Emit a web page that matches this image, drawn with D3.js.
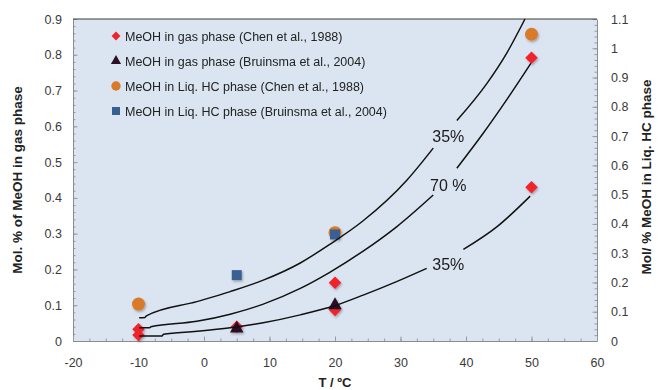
<!DOCTYPE html>
<html>
<head>
<meta charset="utf-8">
<script src="https://cdn.jsdelivr.net/npm/d3@7"></script>
<style>
  body { margin: 0; background: #ffffff; }
  svg { display: block; }
  .tick text { font-family: "Liberation Sans", Arial, sans-serif; font-size: 12.5px; fill: #3a3a3a; }
</style>
</head>
<body>
<div id="canvas"></div>
<script>
// x ticks (temperature, degC)
var xTicks = [-20, -10, 0, 10, 20, 30, 40, 50, 60];
var yLeftTicks = [0, 0.1, 0.2, 0.3, 0.4, 0.5, 0.6, 0.7, 0.8, 0.9];
var yRightTicks = [0, 0.1, 0.2, 0.3, 0.4, 0.5, 0.6, 0.7, 0.8, 0.9, 1, 1.1];

// measured points [T, value]
var gasChen = [[-10, 0.033], [-10, 0.017], [5, 0.04], [20, 0.163], [20, 0.087], [50, 0.792], [50, 0.43]];
var gasBruinsma = [[5, 0.035], [20, 0.10]];
var liqChen = [[-10, 0.126], [20, 0.37], [50, 1.048]];          // right axis
var liqBruinsma = [[5, 0.225], [20, 0.364]];                     // right axis

// model curves (null = gap for the label)
var curve35Upper = [[-9.9, 0.065], [-9.0, 0.066], [-8.8, 0.07], [-1.1, 0.11], [4.0, 0.138], [9.05, 0.17],
  [14.7, 0.218], [19.2, 0.27], [24.3, 0.336], [31.0, 0.45], [35.0, 0.539], null,
  [38.6, 0.616], [43.2, 0.72], [46.2, 0.804], [49.0, 0.9]];
var curve70 = [[-9.9, 0.037], [-8.3, 0.037], [-8.1, 0.04], [-1.1, 0.055], [4.0, 0.075], [9.05, 0.103],
  [14.7, 0.147], [19.2, 0.192], [24.3, 0.251], [29.4, 0.319], [35.0, 0.408], null,
  [38.6, 0.483], [42.6, 0.58], [46.2, 0.674], [49.9, 0.776]];
var curve35Lower = [[-9.9, 0.014], [-6.4, 0.014], [-6.2, 0.019], [-1.1, 0.027], [4.0, 0.037], [9.05, 0.051],
  [14.7, 0.073], [20.0, 0.099], [24.4, 0.129], [29.4, 0.166], [34.0, 0.203], null,
  [39.6, 0.256], [44.7, 0.319], [49.8, 0.405]];

var curveLabels = [
  { text: "35%", t: 37.3, v: 0.573 },
  { text: "70 %", t: 37.3, v: 0.436 },
  { text: "35%", t: 37.3, v: 0.215 }
];

var legendLabels = [
  "MeOH in gas phase (Chen et al., 1988)",
  "MeOH in gas phase (Bruinsma et al., 2004)",
  "MeOH in Liq. HC phase (Chen et al., 1988)",
  "MeOH in Liq. HC phase (Bruinsma et al., 2004)"
];

var width = 658, height = 390;
var pLeft = 73, pRight = 597, pTop = 19, pBottom = 341;

var svg = d3.select("#canvas").append("svg")
  .attr("width", width).attr("height", height);

var defs = svg.append("defs");
var f = defs.append("filter").attr("id", "shadow")
  .attr("x", "-50%").attr("y", "-50%").attr("width", "200%").attr("height", "200%");
f.append("feDropShadow").attr("dx", 1).attr("dy", 1.5).attr("stdDeviation", 1)
  .attr("flood-color", "#000").attr("flood-opacity", 0.3);

var x = d3.scaleLinear().domain([-20, 60]).range([pLeft, pRight]);
var yL = d3.scaleLinear().domain([0, 0.9]).range([pBottom, pTop]);
var yR = d3.scaleLinear().domain([0, 1.1]).range([pBottom, pTop]);

// plot area
svg.append("rect")
  .attr("x", pLeft).attr("y", pTop)
  .attr("width", pRight - pLeft).attr("height", pBottom - pTop)
  .attr("fill", "#dbe5f1");

function minorStyle(g){ g.select(".domain").remove(); g.selectAll("line").attr("stroke", "#9a9a9a"); }
function majorStyle(g){ g.select(".domain").attr("stroke", "#8c8c8c"); g.selectAll("line").attr("stroke", "#9a9a9a"); }
var fmt = function(d){ return String(d); };

// minor ticks
svg.append("g").attr("transform", "translate(" + pLeft + ",0)")
  .call(d3.axisLeft(yL).tickValues(d3.range(0, 0.901, 0.02)).tickSizeInner(-2.5).tickSizeOuter(0).tickFormat(""))
  .call(minorStyle);
svg.append("g").attr("transform", "translate(" + pRight + ",0)")
  .call(d3.axisRight(yR).tickValues(d3.range(0, 1.101, 0.02)).tickSizeInner(-2.5).tickSizeOuter(0).tickFormat(""))
  .call(minorStyle);
svg.append("g").attr("transform", "translate(0," + pBottom + ")")
  .call(d3.axisBottom(x).tickValues(d3.range(-20, 60.1, 2.5)).tickSizeInner(-2.5).tickSizeOuter(0).tickFormat(""))
  .call(minorStyle);

// major axes
svg.append("g").attr("transform", "translate(" + pLeft + ",0)")
  .call(d3.axisLeft(yL).tickValues(yLeftTicks).tickSizeInner(-4.5).tickSizeOuter(0).tickPadding(11).tickFormat(fmt))
  .call(majorStyle);
svg.append("g").attr("transform", "translate(" + pRight + ",0)")
  .call(d3.axisRight(yR).tickValues(yRightTicks).tickSizeInner(-4.5).tickSizeOuter(0).tickPadding(14).tickFormat(fmt))
  .call(majorStyle);
svg.append("g").attr("transform", "translate(0," + pBottom + ")")
  .call(d3.axisBottom(x).tickValues(xTicks).tickSizeInner(-4.5).tickSizeOuter(0).tickPadding(17).tickFormat(fmt))
  .call(majorStyle);

// top border
svg.append("line").attr("x1", pLeft).attr("x2", pRight).attr("y1", pTop).attr("y2", pTop)
  .attr("stroke", "#3c3c3c").attr("stroke-width", 1.2);

// axis titles
svg.append("text")
  .attr("transform", "translate(22," + ((pTop + pBottom) / 2) + ") rotate(-90)")
  .attr("text-anchor", "middle")
  .style("font-family", "Liberation Sans, Arial, sans-serif")
  .style("font-weight", "bold").style("font-size", "13.5px").attr("fill", "#222")
  .text("Mol. % of MeOH in gas phase");
svg.append("text")
  .attr("transform", "translate(651," + ((pTop + pBottom) / 2 - 3) + ") rotate(-90)")
  .attr("text-anchor", "middle")
  .style("font-family", "Liberation Sans, Arial, sans-serif")
  .style("font-weight", "bold").style("font-size", "13.5px").attr("fill", "#222")
  .text("Mol/ % MeOH in Liq. HC phase");
svg.append("text")
  .attr("x", x(20)).attr("y", 387)
  .attr("text-anchor", "middle")
  .style("font-family", "Liberation Sans, Arial, sans-serif")
  .style("font-weight", "bold").style("font-size", "13px").attr("fill", "#222")
  .text("T / ºC");

// markers
var red = "#f0222a", dark = "#2b1026", orange = "#d97a2b", blue = "#376092";
var diamond = d3.symbol().type(d3.symbolDiamond2).size(100);
var tri = d3.symbol().type(d3.symbolTriangle).size(80);
var sq = d3.symbol().type(d3.symbolSquare).size(100);

var marks = svg.append("g").attr("filter", "url(#shadow)");
marks.selectAll(".liqc").data(liqChen).enter().append("circle")
  .attr("cx", function(d){ return x(d[0]); }).attr("cy", function(d){ return yR(d[1]); })
  .attr("r", 6.5).attr("fill", orange);
marks.selectAll(".liqb").data(liqBruinsma).enter().append("path")
  .attr("d", sq)
  .attr("transform", function(d){ return "translate(" + x(d[0]) + "," + yR(d[1]) + ")"; })
  .attr("fill", blue);
marks.selectAll(".gasc").data(gasChen).enter().append("path")
  .attr("d", diamond)
  .attr("transform", function(d){ return "translate(" + x(d[0]) + "," + yL(d[1]) + ")"; })
  .attr("fill", red);
marks.selectAll(".gasb").data(gasBruinsma).enter().append("path")
  .attr("d", tri)
  .attr("transform", function(d){ return "translate(" + x(d[0]) + "," + yL(d[1]) + ")"; })
  .attr("fill", dark);

// curves
var line = d3.line()
  .defined(function(d){ return d !== null; })
  .x(function(d){ return x(d[0]); })
  .y(function(d){ return yL(d[1]); })
  .curve(d3.curveMonotoneX);

[curve35Upper, curve70, curve35Lower].forEach(function(c){
  svg.append("path").datum(c)
    .attr("d", line)
    .attr("fill", "none").attr("stroke", "#111").attr("stroke-width", 1.5);
});

svg.selectAll(".clab").data(curveLabels).enter().append("text")
  .attr("x", function(d){ return x(d.t); })
  .attr("y", function(d){ return yL(d.v) + 6; })
  .attr("text-anchor", "middle")
  .style("font-family", "Liberation Sans, Arial, sans-serif")
  .style("font-size", "16px").attr("fill", "#1a1a1a")
  .text(function(d){ return d.text; });

// legend
var lg = svg.append("g").attr("transform", "translate(116,36)");
var legendMarks = [
  function(g){ g.append("path").attr("d", d3.symbol().type(d3.symbolDiamond2).size(50)).attr("fill", red); },
  function(g){ g.append("path").attr("d", d3.symbol().type(d3.symbolTriangle).size(45)).attr("fill", dark); },
  function(g){ g.append("circle").attr("r", 4.7).attr("fill", orange); },
  function(g){ g.append("path").attr("d", d3.symbol().type(d3.symbolSquare).size(64)).attr("fill", blue); }
];
legendLabels.forEach(function(t, i){
  var row = lg.append("g").attr("transform", "translate(0," + (i * 25) + ")");
  legendMarks[i](row);
  row.append("text").attr("x", 9).attr("y", 4.5)
    .style("font-family", "Liberation Sans, Arial, sans-serif")
    .style("font-size", "12.5px").attr("fill", "#222")
    .text(t);
});
</script>
</body>
</html>
